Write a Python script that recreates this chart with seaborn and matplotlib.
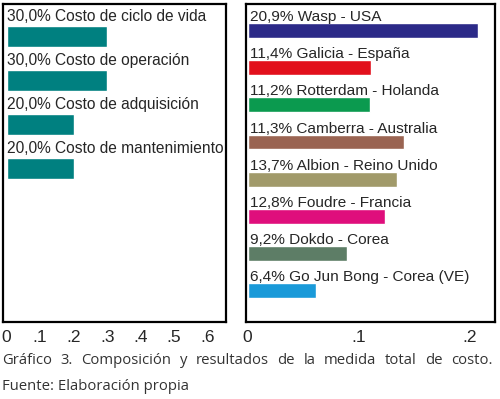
import matplotlib
matplotlib.use("Agg")
import matplotlib.pyplot as plt
import seaborn as sns
import pandas as pd
from matplotlib.ticker import MultipleLocator, FuncFormatter

# Data
cost_items = ["Costo de ciclo de vida", "Costo de operación",
              "Costo de adquisición", "Costo de mantenimiento"]
cost_share = [0.30, 0.30, 0.20, 0.20]
cost_labels = ["30,0%", "30,0%", "20,0%", "20,0%"]

ships = ["Wasp - USA", "Galicia - España", "Rotterdam - Holanda",
         "Camberra - Australia", "Albion - Reino Unido", "Foudre - Francia",
         "Dokdo - Corea", "Go Jun Bong - Corea (VE)"]
ship_score = [0.208, 0.111, 0.110, 0.141, 0.135, 0.124, 0.090, 0.062]
ship_labels = ["20,9%", "11,4%", "11,2%", "11,3%", "13,7%", "12,8%", "9,2%", "6,4%"]
ship_colors = ["#2c2a88", "#e2101c", "#0b9a4f", "#9a6452", "#a19a6a",
               "#df0e7c", "#5d7d66", "#1a9ad9"]

caption = ["Gráfico 3. Composición y resultados de la medida total de costo.",
           "Fuente: Elaboración propia"]

sns.set_style("white")
plt.rcParams["font.family"] = ["Liberation Sans", "DejaVu Sans"]

fig = plt.figure(figsize=(5, 3.99), dpi=100)
W, H = 500, 399
top, bottom = 4, 322
ax1 = fig.add_axes([3 / W, 1 - bottom / H, (226 - 3) / W, (bottom - top) / H])
ax2 = fig.add_axes([246 / W, 1 - bottom / H, (495 - 246) / W, (bottom - top) / H])

df1 = pd.DataFrame({"item": cost_items, "share": cost_share})
sns.barplot(data=df1, x="share", y="item", orient="h", color="#008080",
            width=0.48, saturation=1, ax=ax1)
ax1.set_xlim(-0.011, 0.655)
ax1.set_ylim(6.5, -0.73)
for i, (lab, name) in enumerate(zip(cost_labels, cost_items)):
    ax1.text(0.001, i - 0.45, f"{lab} {name}", fontsize=11.2, va="center", ha="left")

df2 = pd.DataFrame({"ship": ships, "score": ship_score})
sns.barplot(data=df2, x="score", y="ship", orient="h", hue="ship",
            palette=ship_colors, width=0.40, saturation=1, legend=False, ax=ax2)
ax2.set_xlim(-0.0015, 0.223)
ax2.set_ylim(7.84, -0.71)
for i, (lab, name) in enumerate(zip(ship_labels, ships)):
    ax2.text(0.002, i - 0.36, f"{lab} {name}", fontsize=11.1, va="center", ha="left")

fmt = FuncFormatter(lambda v, p: "0" if abs(v) < 1e-9 else f"{v:.1f}".lstrip("0"))
for ax in (ax1, ax2):
    ax.set_xlabel("")
    ax.set_ylabel("")
    ax.set_yticks([])
    ax.xaxis.set_major_formatter(fmt)
    ax.tick_params(axis="x", direction="in", length=6, width=2, labelsize=12.5, pad=5.5)
    for s in ax.spines.values():
        s.set_linewidth(1.6)
        s.set_color("black")
ax1.xaxis.set_major_locator(MultipleLocator(0.1))
ax1.xaxis.set_minor_locator(MultipleLocator(0.05))
ax1.tick_params(axis="x", which="minor", direction="in", length=2, width=2)
ax2.xaxis.set_major_locator(MultipleLocator(0.1))

# caption: first line justified across the figure width
cap = dict(family=["Open Sans", "DejaVu Sans"], fontsize=10.7, color="#333333")
renderer = fig.canvas.get_renderer()
words = caption[0].split(" ")
items = []
for w in words:
    t = fig.text(0, 1 - 361 / H, w, va="center", ha="left", **cap)
    items.append((t, t.get_window_extent(renderer).width))
x0, x1 = 2, 493
gap = (x1 - x0 - sum(wd for _, wd in items)) / (len(items) - 1)
x = x0
for t, wd in items:
    t.set_x(x / W)
    x += wd + gap
fig.text(2 / W, 1 - 386 / H, caption[1], va="center", ha="left", **cap)

fig.savefig("out.png", dpi=100)
